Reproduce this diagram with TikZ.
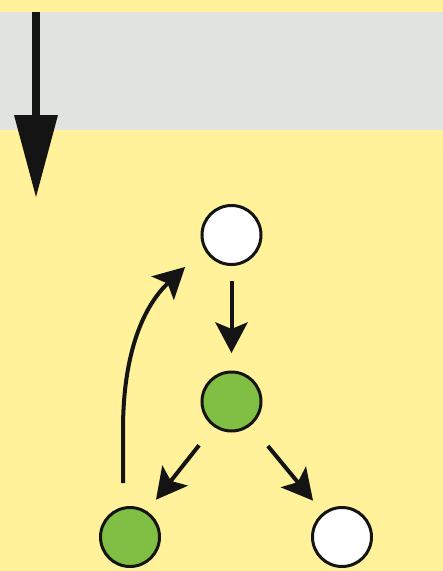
\documentclass[tikz,border=0pt]{standalone}
\usetikzlibrary{arrows.meta}
\definecolor{bgyellow}{RGB}{255,242,155}
\definecolor{bandgray}{RGB}{224,227,224}
\definecolor{cellgreen}{RGB}{128,190,68}
\definecolor{inkblack}{RGB}{20,20,20}
\tikzset{
  cell/.style={circle, draw=inkblack, line width=3pt, minimum size=59pt, inner sep=0pt, outer sep=0pt},
  whitecell/.style={cell, fill=white},
  greencell/.style={cell, fill=cellgreen},
  flow/.style={draw=inkblack, line width=4pt, -{Stealth[length=31pt,width=33pt,inset=7pt,line width=0pt]}},
  bigflow/.style={draw=inkblack, line width=8.5pt, -{Triangle[length=82pt,width=44pt,line width=0pt]}}
}
\begin{document}
\begin{tikzpicture}[x=1pt,y=-1pt]
  \useasboundingbox (0,0) rectangle (443,571);
  \fill[bgyellow] (0,0) rectangle (443,571);
  \fill[bandgray] (0,12) rectangle (443,130);
  % big arrow
  \coordinate (bigstart) at (36,12);
  \coordinate (bigend) at (36,197);
  \draw[bigflow] (bigstart) -- (bigend);
  % cells
  \node[whitecell] (top) at (231.5,235) {};
  \node[greencell] (mid) at (231.5,401.5) {};
  \node[greencell] (bl) at (130,537) {};
  \node[whitecell] (br) at (342,537) {};
  % arrows
  \draw[flow, shorten <=16pt, shorten >=19pt] (top.south) -- (mid.north);
  \draw[flow, shorten <=25pt, shorten >=16pt] (mid.235) -- (bl.57);
  \draw[flow, shorten <=28pt, shorten >=17pt] (mid.309) -- (br.128);
  \coordinate (loopstart) at (123,483);
  \coordinate (loopend) at (185,267);
  \draw[flow] (loopstart) -- (123,430) .. controls (123,350) and (145,305) .. (loopend);
\end{tikzpicture}
\end{document}
